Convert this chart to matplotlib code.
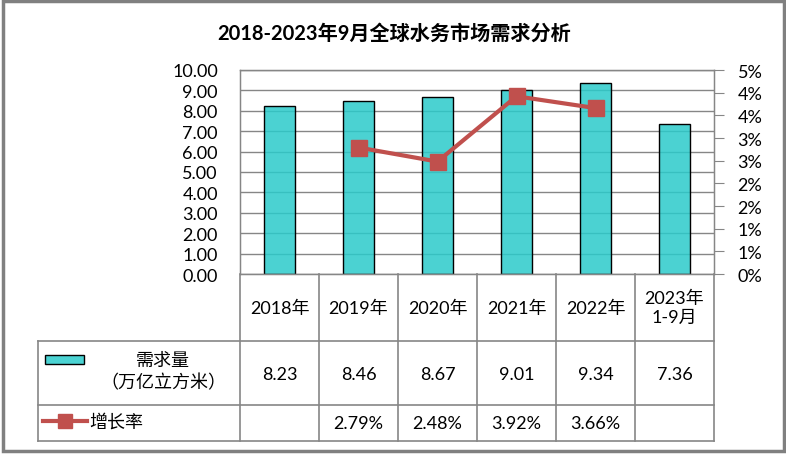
import numpy as np
import matplotlib
matplotlib.use("Agg")
import matplotlib.pyplot as plt
from matplotlib.patches import Rectangle
from matplotlib.lines import Line2D

# ---- data ----
title = "2018-2023年9月全球水务市场需求分析"
categories = ["2018年", "2019年", "2020年", "2021年", "2022年", "2023年\n1-9月"]
demand = [8.23, 8.46, 8.67, 9.01, 9.34, 7.36]
growth = [np.nan, 2.79, 2.48, 3.92, 3.66, np.nan]
demand_labels = ["8.23", "8.46", "8.67", "9.01", "9.34", "7.36"]
growth_labels = ["", "2.79%", "2.48%", "3.92%", "3.66%", ""]
series_demand = "需求量\n（万亿立方米）"
series_growth = "增长率"

FONT = ["Lato", "Noto Sans CJK SC", "DejaVu Sans"]
plt.rcParams["font.family"] = FONT

W, H = 786, 456
fig = plt.figure(figsize=(W / 100, H / 100), dpi=100)

# layout in pixels
PL, PR, PT, PB = 240, 714, 71, 275
TL = 38
ROW1, ROW2, ROW3 = 342, 406, 442
GRID = "#868686"
BAR = (43 / 255, 203 / 255, 203 / 255, 0.85)
BAR_KEY = "#4BD3D3"
LINE = "#C0504D"

ax = fig.add_axes([PL / W, 1 - PB / H, (PR - PL) / W, (PB - PT) / H])
x = np.arange(len(categories))
ax.bar(x, demand, width=0.4, color=BAR, edgecolor="black", linewidth=1, zorder=2)
ax.set_xlim(-0.5, len(categories) - 0.5)
ax.set_ylim(0, 10)
ax.set_yticks(np.arange(0, 10.01, 1))
ax.set_yticklabels([f"{v:.2f}" for v in np.arange(0, 10.01, 1)], fontsize=13)
ax.tick_params(axis="y", length=0, pad=16)
ax.set_xticks([])
ax.set_axisbelow(True)
ax.grid(axis="y", color=GRID, linewidth=1, zorder=0)
for s in ["left", "right", "bottom", "top"]:
    ax.spines[s].set_color(GRID)
    ax.spines[s].set_linewidth(1)

ax2 = ax.twinx()
ax2.plot(x, growth, color=LINE, linewidth=3, marker="s", markersize=11, zorder=3)
ax2.set_ylim(0, 4.5)
rt = np.arange(0, 4.51, 0.5)
ax2.set_yticks(rt)
ax2.set_yticklabels([f"{int(v + 0.5)}%" for v in rt], fontsize=13)
ax2.tick_params(axis="y", length=7, color=GRID, pad=10)
for s in ["left", "right", "bottom", "top"]:
    ax2.spines[s].set_color(GRID)
ax2.set_xlim(-0.5, len(categories) - 0.5)

# overlay for table, title and border
ov = fig.add_axes([0, 0, 1, 1], zorder=5)
ov.set_xlim(0, W)
ov.set_ylim(H, 0)
ov.axis("off")

colw = (PR - PL) / len(categories)
edges = [PL + k * colw for k in range(len(categories) + 1)]
kw = dict(color=GRID, linewidth=1.2)
for e in edges:
    ov.plot([e, e], [PB, ROW3], **kw)
for yy in [ROW1, ROW2, ROW3]:
    ov.plot([TL, PR], [yy, yy], **kw)
ov.plot([TL, TL], [ROW1, ROW3], **kw)

tfs = 13
for i, c in enumerate(categories):
    cx = (edges[i] + edges[i + 1]) / 2
    ov.text(cx, (PB + ROW1) / 2, c, ha="center", va="center", fontsize=tfs, linespacing=1.2)
    ov.text(cx, (ROW1 + ROW2) / 2 + 1, demand_labels[i], ha="center", va="center", fontsize=tfs)
    ov.text(cx, (ROW2 + ROW3) / 2, growth_labels[i], ha="center", va="center", fontsize=tfs)

# legend keys
ov.add_patch(Rectangle((45, 356), 39, 9, facecolor=BAR_KEY, edgecolor="black", linewidth=1))
ov.text(163, 372, series_demand, ha="center", va="center", fontsize=tfs, linespacing=1.3)
ov.add_line(Line2D([43, 87], [422, 422], color=LINE, linewidth=3))
ov.plot([65], [422], marker="s", markersize=10, color=LINE, linestyle="none")
ov.text(89, 422, series_growth, ha="left", va="center", fontsize=tfs)

# title
ov.text(W / 2 + 1, 34, title, ha="center", va="center", fontsize=14.5, fontweight="bold")

# border
ov.add_patch(Rectangle((2.5, 2), 781, 450.5, fill=False, edgecolor="#808080", linewidth=2.5))

fig.savefig("out.png", dpi=100)
